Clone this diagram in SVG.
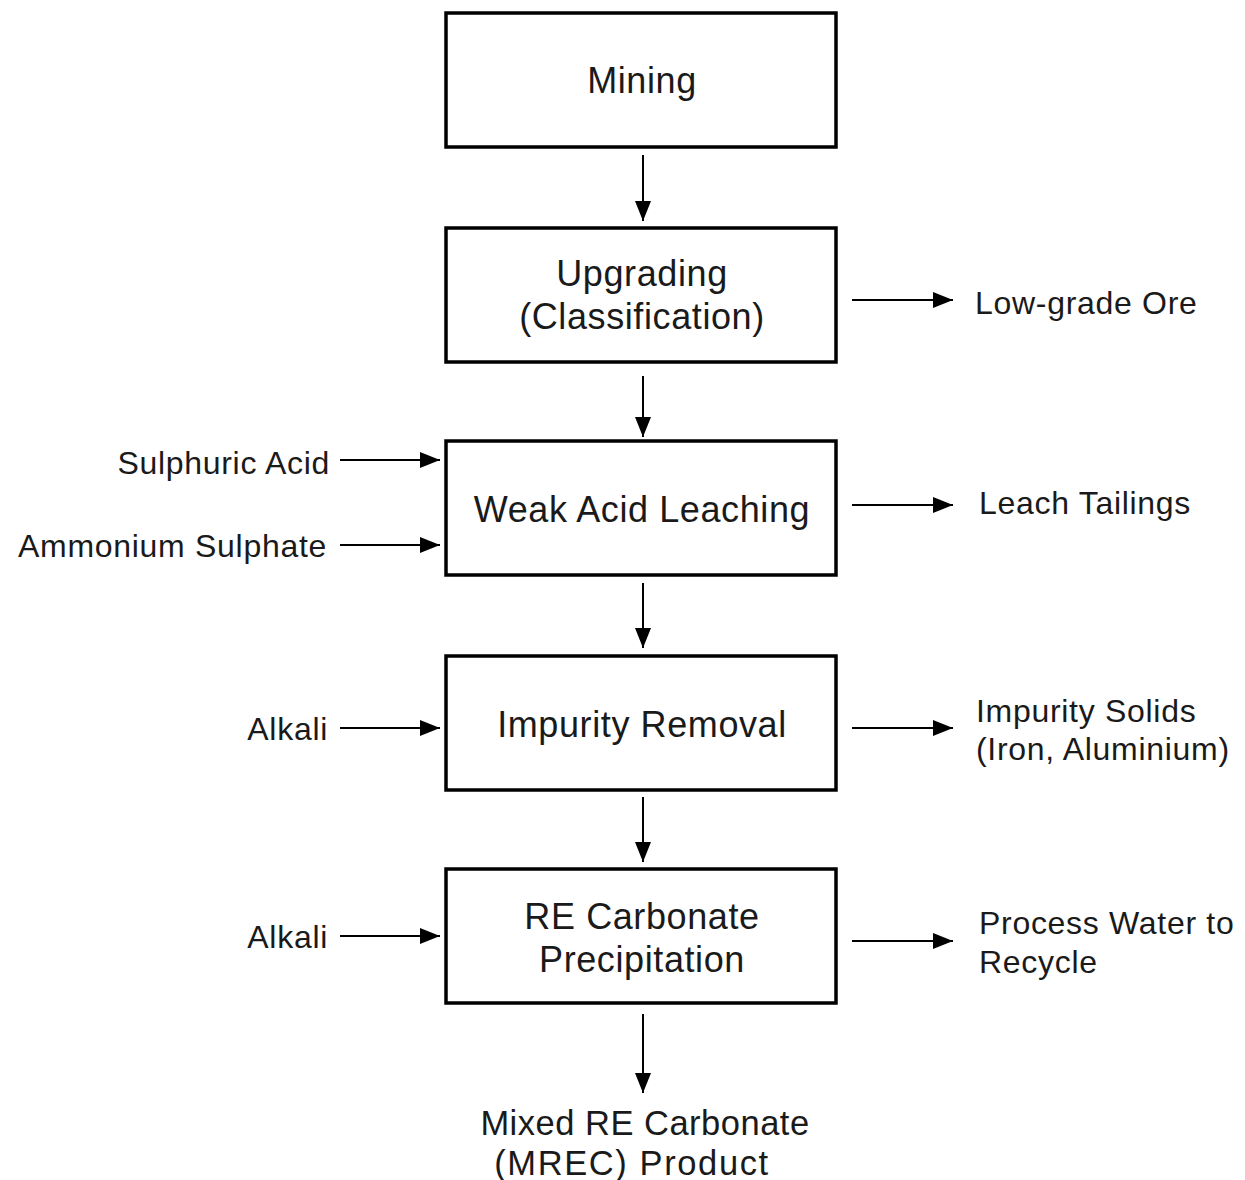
<svg xmlns="http://www.w3.org/2000/svg" width="1245" height="1180" viewBox="0 0 1245 1180">
<style>
.box{fill:#fff;stroke:#000;stroke-width:3.5}
.main{font-family:"Liberation Sans",Arial,sans-serif;font-size:36px;letter-spacing:0.6px;fill:#1a1a1a;text-anchor:middle}
.prod{font-family:"Liberation Sans",Arial,sans-serif;font-size:34.5px;letter-spacing:0.5px;fill:#1a1a1a;text-anchor:middle}
.lbl{font-family:"Liberation Sans",Arial,sans-serif;font-size:32px;letter-spacing:0.7px;fill:#1a1a1a}
.r{text-anchor:end}
.conn line{stroke:#000;stroke-width:2;marker-end:url(#ah)}
</style>
<defs>
<marker id="ah" markerUnits="userSpaceOnUse" markerWidth="22" markerHeight="18" refX="20" refY="8" orient="auto">
<path d="M0,0 L20,8 L0,16 z" fill="#000"/>
</marker>
</defs>
<rect width="1245" height="1180" fill="#fff"/>
<g id="mining"><rect class="box" x="446" y="13" width="390" height="134"/><text class="main" x="642" y="93">Mining</text></g>
<g id="upgrading"><rect class="box" x="446" y="228" width="390" height="134"/><text class="main" x="642" y="286">Upgrading</text><text class="main" x="642" y="329">(Classification)</text></g>
<g id="leaching"><rect class="box" x="446" y="441" width="390" height="134"/><text class="main" x="642" y="522">Weak Acid Leaching</text></g>
<g id="impurity"><rect class="box" x="446" y="656" width="390" height="134"/><text class="main" x="642" y="737">Impurity Removal</text></g>
<g id="precip"><rect class="box" x="446" y="869" width="390" height="134"/><text class="main" x="642" y="929">RE Carbonate</text><text class="main" x="642" y="972">Precipitation</text></g>
<g id="product"><text class="prod" x="645" y="1135">Mixed RE Carbonate</text><text class="prod" x="632" y="1175" style="letter-spacing:1.6px">(MREC) Product</text></g>
<g id="lowgrade"><text class="lbl" x="975" y="314">Low-grade Ore</text></g>
<g id="tailings"><text class="lbl" x="979" y="514">Leach Tailings</text></g>
<g id="solids"><text class="lbl" x="976" y="722">Impurity Solids</text><text class="lbl" x="976" y="760">(Iron, Aluminium)</text></g>
<g id="water"><text class="lbl" x="979" y="934">Process Water to</text><text class="lbl" x="979" y="973">Recycle</text></g>
<g id="acid"><text class="lbl r" x="330" y="474">Sulphuric Acid</text></g>
<g id="ammonium"><text class="lbl r" x="327" y="557">Ammonium Sulphate</text></g>
<g id="alkali1"><text class="lbl r" x="328" y="740">Alkali</text></g>
<g id="alkali2"><text class="lbl r" x="328" y="948">Alkali</text></g>
<g class="conn" id="connectors">
<line x1="643" y1="155" x2="643" y2="221"/>
<line x1="643" y1="376" x2="643" y2="437"/>
<line x1="643" y1="583" x2="643" y2="648"/>
<line x1="643" y1="797" x2="643" y2="862"/>
<line x1="643" y1="1014" x2="643" y2="1093"/>
<line x1="852" y1="300" x2="953" y2="300"/>
<line x1="852" y1="505" x2="953" y2="505"/>
<line x1="852" y1="728" x2="953" y2="728"/>
<line x1="852" y1="941" x2="953" y2="941"/>
<line x1="340" y1="460" x2="440" y2="460"/>
<line x1="340" y1="545" x2="440" y2="545"/>
<line x1="340" y1="728" x2="440" y2="728"/>
<line x1="340" y1="936" x2="440" y2="936"/>
</g>
</svg>
